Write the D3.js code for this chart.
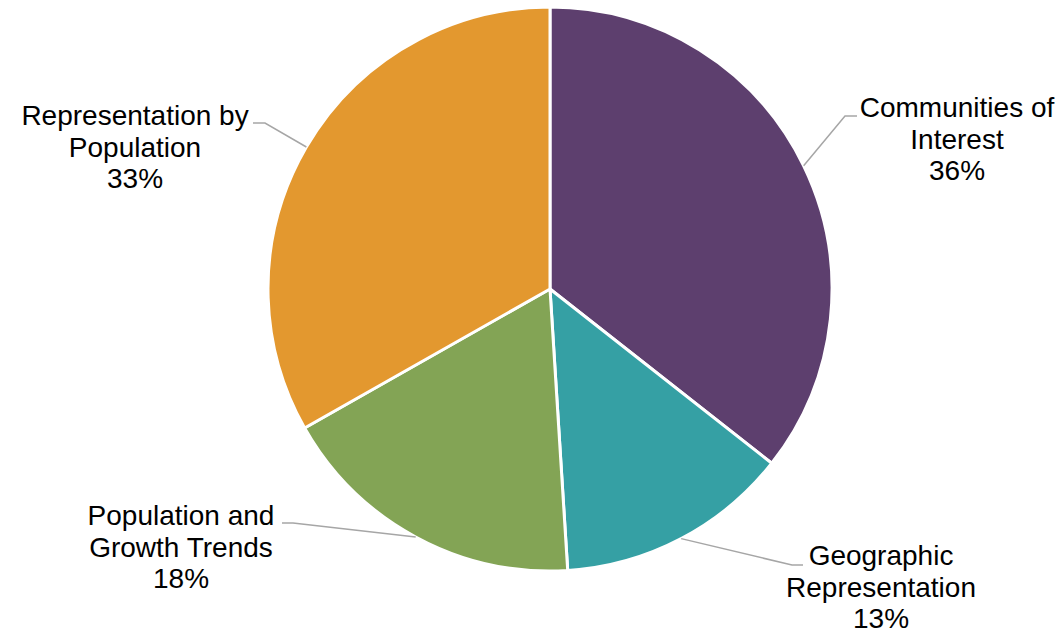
<!DOCTYPE html>
<html>
<head>
<meta charset="utf-8">
<script src="https://cdn.jsdelivr.net/npm/d3@7"></script>
<style>
  html, body { margin: 0; padding: 0; background: #fff; }
  svg text { font-family: Arial, "Liberation Sans", sans-serif; }
</style>
</head>
<body>
<div id="chart"></div>
<script>
// slice data (clockwise from 12 o'clock)
const categories = ['Communities of Interest', 'Geographic Representation', 'Population and Growth Trends', 'Representation by Population'];
const labelLines = [['Communities of', 'Interest'], ['Geographic', 'Representation'], ['Population and', 'Growth Trends'], ['Representation by', 'Population']];
const values = [35.6, 13.4, 17.8, 33.2];
const colors = ['#5d3f6e', '#35a0a4', '#83a455', '#e3982f'];

// label layout: elbow of the leader line and text anchor, relative to pie centre
const labelLayout = [
  { elbow: [295, -173], end: [307, -173], text: [407, -172] },
  { elbow: [242, 276], end: [253, 276], text: [331, 276] },
  { elbow: [-257, 234], end: [-268, 234], text: [-369, 236] },
  { elbow: [-285, -166], end: [-297, -166], text: [-415, -164] }
];

const width = 1061, height = 633;
const cx = 550, cy = 289, radius = 282;
const fontSize = 28, lineGap = 31.5;

const svg = d3.select('#chart').append('svg')
  .attr('width', width)
  .attr('height', height);

const g = svg.append('g').attr('transform', `translate(${cx},${cy})`);

const pie = d3.pie().sort(null).value(d => d.value);
const arcs = pie(values.map((v, i) => ({ value: v, i })));
const arc = d3.arc().innerRadius(0).outerRadius(radius);

// Slices
g.append('g')
  .selectAll('path')
  .data(arcs)
  .join('path')
  .attr('d', arc)
  .attr('fill', d => colors[d.data.i])
  .attr('stroke', '#fff')
  .attr('stroke-width', 3)
  .attr('stroke-linejoin', 'round');

// Leader lines
g.append('g')
  .selectAll('polyline')
  .data(arcs)
  .join('polyline')
  .attr('points', d => {
    const a = (d.startAngle + d.endAngle) / 2;
    const p0 = [radius * Math.sin(a), -radius * Math.cos(a)];
    const L = labelLayout[d.data.i];
    return [p0, L.elbow, L.end].map(p => p.join(',')).join(' ');
  })
  .attr('fill', 'none')
  .attr('stroke', '#a6a6a6')
  .attr('stroke-width', 1.5);

// Labels
const label = g.append('g')
  .selectAll('text')
  .data(arcs)
  .join('text')
  .attr('text-anchor', 'middle')
  .attr('font-size', fontSize)
  .attr('fill', '#000')
  .attr('transform', d => {
    const t = labelLayout[d.data.i].text;
    return `translate(${t[0]},${t[1]})`;
  });

label.each(function(d) {
  const lines = labelLines[d.data.i].concat([Math.round(d.data.value) + '%']);
  const el = d3.select(this);
  lines.forEach((s, k) => {
    el.append('tspan')
      .attr('x', 0)
      .attr('y', k * lineGap)
      .text(s);
  });
});
</script>
</body>
</html>
